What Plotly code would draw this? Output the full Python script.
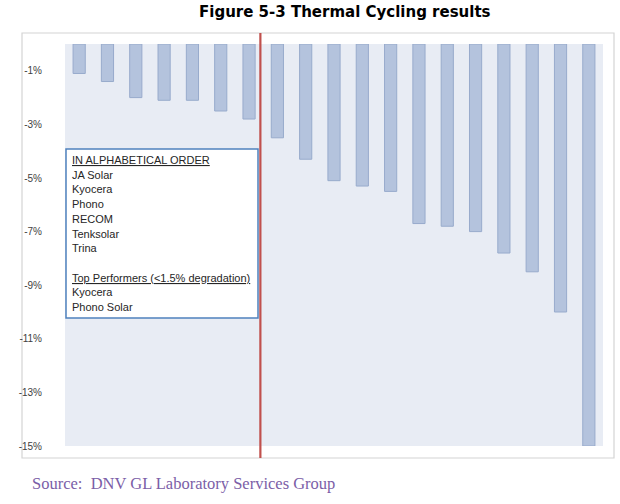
import plotly.graph_objects as go

# Data
categories = [f"M{i}" for i in range(1, 20)]
degradation = [-1.1, -1.4, -2.0, -2.1, -2.1, -2.5, -2.8, -3.5, -4.3, -5.1,
               -5.3, -5.5, -6.7, -6.8, -7.0, -7.8, -8.5, -10.0, -15.0]
y_ticks = [-1, -3, -5, -7, -9, -11, -13, -15]
y_ticklabels = [f"{v}%" for v in y_ticks]
box_lines = ["<u>IN ALPHABETICAL ORDER</u>", "JA Solar", "Kyocera", "Phono", "RECOM",
             "Tenksolar", "Trina", "", "<u>Top Performers (&lt;1.5% degradation)</u>",
             "Kyocera", "Phono Solar"]
title_text = "Figure 5-3 Thermal Cycling results"
source_text = "Source:  DNV GL Laboratory Services Group"

W, H = 620, 504
L, R, T, B = 65, 17, 44, 58
pw, ph = W - L - R, H - T - B

def px(x):
    return (x - L) / pw

def py(y):
    return (H - B - y) / ph

fig = go.Figure()
fig.add_trace(go.Bar(
    x=categories, y=degradation,
    marker=dict(color="#b4c3dd", line=dict(color="#98abcc", width=1)),
    width=0.43,
))

shapes = [
    # outer frame
    dict(type="rect", xref="paper", yref="paper", x0=px(22), x1=px(614), y0=py(458), y1=py(33),
         line=dict(color="#d4d4d4", width=1.2), fillcolor="rgba(0,0,0,0)", layer="below"),
    # red divider
    dict(type="line", xref="x", yref="paper", x0=6.4, x1=6.4, y0=py(458), y1=py(33),
         line=dict(color="#c0504d", width=2.2)),
    # text box
    dict(type="rect", xref="paper", yref="paper", x0=px(66), x1=px(258), y0=py(318), y1=py(149),
         line=dict(color="#4f81bd", width=1.5), fillcolor="white"),
]

annotations = []
for i, t in enumerate(box_lines):
    annotations.append(dict(
        xref="paper", yref="paper", x=px(70), y=py(160 + i * 14.7),
        text=t, showarrow=False, xanchor="left", yanchor="middle",
        font=dict(family="Liberation Sans", size=11, color="#262626")))

annotations.append(dict(
    xref="paper", yref="paper", x=px(345), y=py(12), text=f"<b>{title_text}</b>",
    showarrow=False, xanchor="center", yanchor="middle",
    font=dict(family="DejaVu Sans", size=15, color="black")))
annotations.append(dict(
    xref="paper", yref="paper", x=px(30), y=py(483), text=source_text,
    showarrow=False, xanchor="left", yanchor="middle",
    font=dict(family="Liberation Serif", size=16.5, color="#7b5ea7")))

fig.update_layout(
    width=W, height=H,
    margin=dict(l=L, r=R, t=T, b=B),
    paper_bgcolor="white", plot_bgcolor="#e8ecf4",
    showlegend=False,
    bargap=0.57,
    xaxis=dict(showticklabels=False, showgrid=False, zeroline=False, ticks=""),
    yaxis=dict(range=[-15, 0], tickvals=y_ticks, ticktext=y_ticklabels,
               showgrid=False, zeroline=False, ticks="",
               tickfont=dict(family="Liberation Sans", size=10, color="#404040"),
               ticklabelstandoff=22),
    shapes=shapes, annotations=annotations,
)

fig.write_html("out.html", config={"displayModeBar": False},
               post_script="document.body.style.margin='0px';")
